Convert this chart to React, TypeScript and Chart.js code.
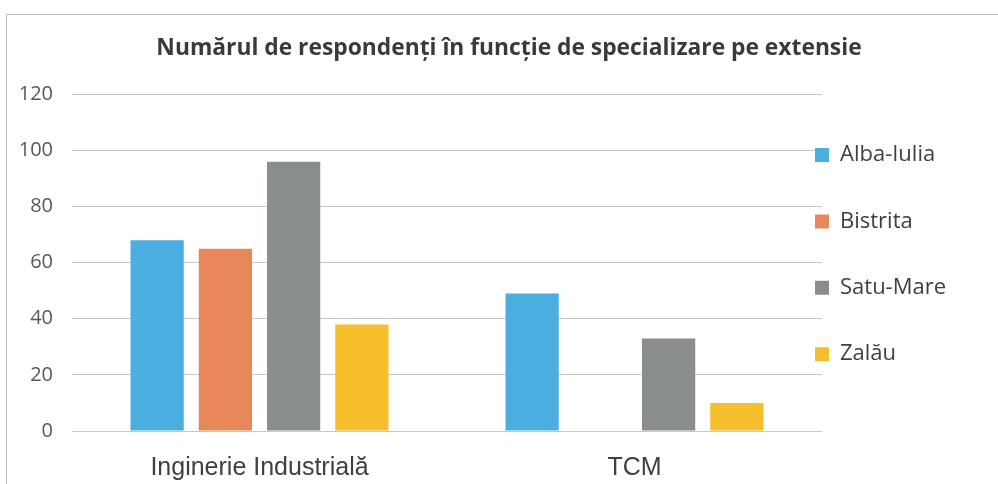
import React, { useEffect, useRef } from 'react';
import { Chart, registerables } from 'chart.js';

Chart.register(...registerables);

const chartTitle = 'Numărul de respondenți în funcție de specializare pe extensie';
const categories = ['Inginerie Industrială', 'TCM'];
const seriesNames = ['Alba-Iulia', 'Bistrita', 'Satu-Mare', 'Zalău'];
const albaIulia = [68, 49];
const bistrita = [65, 0];
const satuMare = [96, 33];
const zalau = [38, 10];
const seriesColors = ['#4BAEE0', '#E8875A', '#8A8E8B', '#F7BE2C'];
const yMin = 0;
const yMax = 120;
const yStep = 20;

const LEGEND_FONT = 22;

const boxShift = {
  id: 'boxShift',
  afterLayout(chart: any) {
    const lg = chart.legend;
    if (lg) {
      const p = lg.options.labels.padding;
      const dx = 815 - p - lg.left;
      lg.left += dx;
      lg.right += dx;
      const dy = 155 - LEGEND_FONT / 2 - p - lg.top;
      lg.top += dy;
      lg.bottom += dy;
    }
    const tb = chart.titleBlock;
    if (tb) {
      tb.left += 10;
      tb.right += 10;
    }
  },
};

export default function App() {
  const ref = useRef<HTMLCanvasElement | null>(null);

  useEffect(() => {
    if (!ref.current) return;
    const values = [albaIulia, bistrita, satuMare, zalau];
    const chart = new Chart(ref.current, {
      type: 'bar',
      data: {
        labels: categories,
        datasets: seriesNames.map((name, i) => ({
          label: name,
          data: values[i],
          backgroundColor: seriesColors[i],
          borderWidth: 0,
          categoryPercentage: 0.728,
          barPercentage: 0.78,
        })),
      },
      options: {
        animation: false,
        responsive: true,
        maintainAspectRatio: false,
        layout: { padding: { left: 0, right: 0, top: 0, bottom: 0 } },
        plugins: {
          title: {
            display: true,
            text: chartTitle,
            color: '#3a3a3a',
            font: { family: '"Open Sans", sans-serif', size: 22.8, weight: '700', lineHeight: 1.2 },
            padding: { top: 35, bottom: 32 },
          },
          legend: {
            position: 'right',
            align: 'start',
            maxWidth: 176,
            labels: {
              boxWidth: 14,
              boxHeight: 14,
              padding: 44.4,
              color: '#404040',
              font: { family: '"Open Sans", sans-serif', size: LEGEND_FONT },
            },
          },
          tooltip: { enabled: false },
        },
        scales: {
          x: {
            grid: { display: false },
            border: { display: false },
            ticks: {
              color: '#404040',
              padding: 14,
              font: { family: '"Liberation Sans", Arial, sans-serif', size: 25 },
            },
            afterFit: (s: any) => { s.height = 53; },
          },
          y: {
            min: yMin,
            max: yMax,
            border: { display: false },
            grid: { color: '#c8c8c8', lineWidth: 1, drawTicks: false },
            ticks: {
              stepSize: yStep,
              color: '#595959',
              padding: 19,
              font: { family: '"Open Sans", sans-serif', size: 20 },
            },
            afterFit: (s: any) => { s.width = 72; },
          },
        },
      },
      plugins: [boxShift],
    });
    return () => chart.destroy();
  }, []);

  return (
    <div style={{ position: 'absolute', left: 0, top: 0, width: 998, height: 484, background: '#fff', overflow: 'hidden' }}>
      <canvas ref={ref} />
      <div
        style={{
          position: 'absolute',
          left: 6,
          top: 14,
          right: 0,
          bottom: 0,
          borderTop: '1px solid #bdbdbd',
          borderLeft: '1px solid #bdbdbd',
          pointerEvents: 'none',
        }}
      />
    </div>
  );
}
